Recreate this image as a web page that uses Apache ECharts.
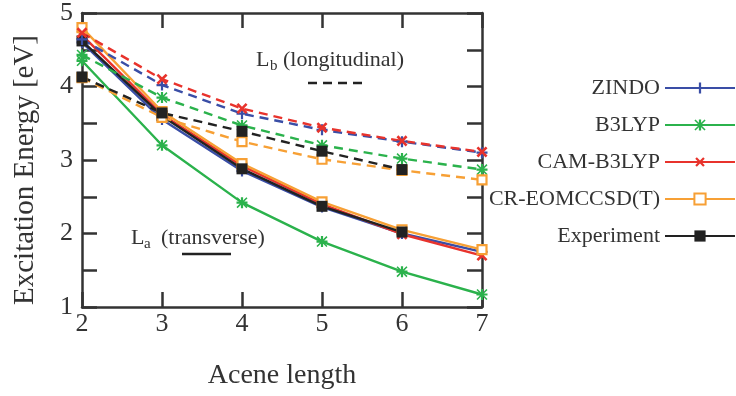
<!DOCTYPE html>
<html>
<head>
<meta charset="utf-8">
<script src="https://cdn.jsdelivr.net/npm/echarts@6/dist/echarts.min.js"></script>
<style>
  html, body { margin: 0; padding: 0; background: #fff; }
  #chart { width: 736px; height: 396px; }
</style>
</head>
<body>
<div id="chart"></div>
<script>
// Acene length (number of fused rings)
const aceneLength = [2, 3, 4, 5, 6, 7];

// Excitation energies [eV]; La = transverse, Lb = longitudinal
const zindoLa = [4.60, 3.55, 2.85, 2.36, 2.00, 1.75];
const zindoLb = [4.64, 4.02, 3.63, 3.41, 3.25, 3.10];
const b3lypLa = [4.35, 3.20, 2.42, 1.89, 1.48, 1.17];
const b3lypLb = [4.43, 3.85, 3.47, 3.20, 3.02, 2.87];
const camLa = [4.70, 3.62, 2.92, 2.40, 1.99, 1.70];
const camLb = [4.73, 4.10, 3.70, 3.44, 3.26, 3.11];
const crLa = [4.80, 3.66, 2.95, 2.43, 2.05, 1.78];
const crLb = [4.12, 3.58, 3.25, 3.01, 2.86, 2.73];
const expLa = [4.62, 3.60, 2.88, 2.37, 2.02, null];
const expLb = [4.13, 3.64, 3.39, 3.12, 2.87, null];

const methodNames = ['ZINDO', 'B3LYP', 'CAM-B3LYP', 'CR-EOMCCSD(T)', 'Experiment'];

const FONT = '"Liberation Serif", "DejaVu Serif", serif';
const INK = '#333333';

const COLORS = {
  ZINDO: '#3a4ea6',
  B3LYP: '#2bb24c',
  'CAM-B3LYP': '#e8332c',
  'CR-EOMCCSD(T)': '#f7a035',
  Experiment: '#222222'
};

// marker shapes
const PLUS = 'path://M4,0H6V4H10V6H6V10H4V6H0V4H4Z';
const STAR = 'path://M4,0H6V4H10V6H6V10H4V6H0V4H4Z M1,0L10,9L9,10L0,1Z M9,0L10,1L1,10L0,9Z';

function pairs(values) {
  return values.map((v, i) => [aceneLength[i], v]);
}

function makeSeries(name, values, dashed, marker) {
  const color = COLORS[name];
  return {
    name: name,
    type: 'line',
    data: pairs(values),
    connectNulls: false,
    symbol: marker.symbol,
    symbolSize: marker.size,
    symbolRotate: marker.rotate || 0,
    itemStyle: marker.hollow
      ? { color: '#ffffff', borderColor: color, borderWidth: 2.2 }
      : { color: color },
    lineStyle: {
      color: color,
      width: 2.4,
      type: dashed ? [9, 6] : 'solid'
    },
    emphasis: { disabled: true },
    z: 2
  };
}

const markers = {
  ZINDO: { symbol: PLUS, size: 11 },
  B3LYP: { symbol: STAR, size: 11 },
  'CAM-B3LYP': { symbol: PLUS, size: 13, rotate: 45 },
  'CR-EOMCCSD(T)': { symbol: 'rect', size: 9, hollow: true },
  Experiment: { symbol: 'rect', size: 11 }
};

const seriesList = [
  makeSeries('ZINDO', zindoLa, false, markers.ZINDO),
  makeSeries('B3LYP', b3lypLa, false, markers.B3LYP),
  makeSeries('CAM-B3LYP', camLa, false, markers['CAM-B3LYP']),
  makeSeries('CR-EOMCCSD(T)', crLa, false, markers['CR-EOMCCSD(T)']),
  makeSeries('Experiment', expLa, false, markers.Experiment),
  makeSeries('ZINDO', zindoLb, true, markers.ZINDO),
  makeSeries('B3LYP', b3lypLb, true, markers.B3LYP),
  makeSeries('CAM-B3LYP', camLb, true, markers['CAM-B3LYP']),
  makeSeries('CR-EOMCCSD(T)', crLb, true, markers['CR-EOMCCSD(T)']),
  makeSeries('Experiment', expLb, true, markers.Experiment)
];

const axisLineStyle = { color: INK, width: 2.5 };
const tickStyle = { color: INK, width: 2.5 };

const chart = echarts.init(document.getElementById('chart'), null, { renderer: 'canvas' });

chart.setOption({
  animation: false,
  backgroundColor: '#ffffff',
  grid: { left: 82, right: 254, top: 9, bottom: 89, containLabel: false },
  xAxis: [
    {
      type: 'value', min: 2, max: 7, interval: 1, position: 'bottom',
      name: 'Acene length', nameLocation: 'middle', nameGap: 55,
      nameTextStyle: { fontFamily: FONT, fontSize: 28, color: INK },
      axisLine: { show: true, lineStyle: axisLineStyle },
      axisTick: { show: true, inside: true, length: 15, lineStyle: tickStyle },
      axisLabel: { fontFamily: FONT, fontSize: 26, color: INK, margin: 4 },
      splitLine: { show: false }
    },
    {
      type: 'value', min: 2, max: 7, interval: 1, position: 'top',
      axisLine: { show: true, onZero: false, lineStyle: axisLineStyle },
      axisTick: { show: true, inside: true, length: 15, lineStyle: tickStyle },
      axisLabel: { show: false },
      splitLine: { show: false }
    }
  ],
  yAxis: [
    {
      type: 'value', min: 1, max: 5, interval: 0.5, position: 'left',
      name: 'Excitation Energy [eV]', nameLocation: 'middle', nameGap: 42,
      nameTextStyle: { fontFamily: FONT, fontSize: 29, color: INK, padding: [0, 20, 0, 0] },
      axisLine: { show: true, lineStyle: axisLineStyle },
      axisTick: { show: true, inside: true, length: 15, lineStyle: tickStyle },
      axisLabel: {
        fontFamily: FONT, fontSize: 26, color: INK, margin: 9,
        formatter: v => (Math.abs(v - Math.round(v)) < 1e-9 ? String(Math.round(v)) : '')
      },
      splitLine: { show: false }
    },
    {
      type: 'value', min: 1, max: 5, interval: 0.5, position: 'right',
      axisLine: { show: true, onZero: false, lineStyle: axisLineStyle },
      axisTick: { show: true, inside: true, length: 15, lineStyle: tickStyle },
      axisLabel: { show: false },
      splitLine: { show: false }
    }
  ],
  legend: {
    data: methodNames,
    orient: 'vertical',
    align: 'right',
    right: 0,
    top: 77,
    padding: 0,
    itemGap: 15,
    itemWidth: 70,
    itemHeight: 14,
    selectedMode: false,
    textStyle: { fontFamily: FONT, fontSize: 22, color: INK }
  },
  graphic: [
    // longitudinal (dashed) key
    { type: 'text', left: 256, top: 49, style: { text: 'L', font: '22px ' + FONT, fill: INK } },
    { type: 'text', left: 270, top: 59, style: { text: 'b', font: '15px ' + FONT, fill: INK } },
    { type: 'text', left: 283, top: 49, style: { text: '(longitudinal)', font: '22px ' + FONT, fill: INK } },
    { type: 'line', shape: { x1: 308, y1: 83, x2: 363, y2: 83 },
      style: { stroke: '#222222', lineWidth: 2.4, lineDash: [9, 6] } },
    // transverse (solid) key
    { type: 'text', left: 131, top: 227, style: { text: 'L', font: '22px ' + FONT, fill: INK } },
    { type: 'text', left: 144, top: 237, style: { text: 'a', font: '15px ' + FONT, fill: INK } },
    { type: 'text', left: 161, top: 227, style: { text: '(transverse)', font: '22px ' + FONT, fill: INK } },
    { type: 'line', shape: { x1: 182, y1: 254, x2: 231, y2: 254 },
      style: { stroke: '#222222', lineWidth: 2.4 } }
  ],
  series: seriesList
});
</script>
</body>
</html>
